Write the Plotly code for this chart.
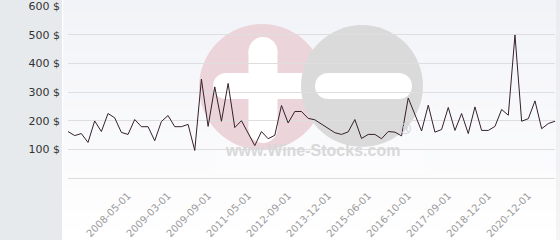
import plotly.graph_objects as go

# ---- data ----
prices = [162, 148, 155, 124, 199, 162, 225, 210, 159, 152,
          204, 179, 179, 130, 197, 218, 179, 179, 187, 96,
          345, 180, 318, 198, 330, 176, 200, 158, 113, 162,
          137, 149, 253, 192, 232, 232, 208, 203, 188, 174,
          158, 152, 161, 204, 138, 152, 152, 137, 162, 160,
          147, 279, 222, 164, 254, 160, 169, 246, 166, 225,
          155, 248, 166, 166, 180, 239, 219, 499, 198, 207,
          269, 172, 190, 198]
point_index = list(range(len(prices)))
tick_positions = [9, 15, 21, 27, 33, 39, 45, 51, 57, 63, 69]
tick_labels = ["2008-05-01", "2009-03-01", "2009-09-01", "2011-05-01",
               "2012-09-01", "2013-12-01", "2015-06-01", "2016-10-01",
               "2017-09-01", "2018-12-01", "2020-12-01"]
y_ticks = [100, 200, 300, 400, 500, 600]
y_labels = [f"{v} $" for v in y_ticks]

# ---- layout geometry (pixels) ----
W, H = 560, 240
L, R, T, B = 68, 5, 5, 62
PW = W - L - R
PH = H - T - B
Y_MAX = 603.5


def px(xp):
    return (xp - L) / PW


def py(yp):
    return (H - B - yp) / PH


shapes = []
# light panel with vertical gradient
top_c = (242, 243, 248)
bot_c = (255, 255, 255)
n = 24
for i in range(n):
    f = i / (n - 1)
    c = tuple(round(top_c[k] + (bot_c[k] - top_c[k]) * f) for k in range(3))
    y0 = i * H / n
    y1 = (i + 1) * H / n + 0.5
    shapes.append(dict(type="rect", xref="paper", yref="paper",
                       x0=px(63), x1=px(W + 2), y0=py(y1), y1=py(y0),
                       fillcolor="rgb(%d,%d,%d)" % c, line_width=0, layer="below"))
# left grey panel
shapes.append(dict(type="rect", xref="paper", yref="paper",
                   x0=px(-2), x1=px(62), y0=py(H + 2), y1=py(-2),
                   fillcolor="#e6eaed", line_width=0, layer="below"))
# white divider
shapes.append(dict(type="rect", xref="paper", yref="paper",
                   x0=px(62), x1=px(63.2), y0=py(H + 2), y1=py(-2),
                   fillcolor="#ffffff", line_width=0, layer="below"))
# right edge shade
shapes.append(dict(type="rect", xref="paper", yref="paper",
                   x0=px(556), x1=px(W + 2), y0=py(H + 2), y1=py(-2),
                   fillcolor="rgba(200,205,210,0.2)", line_width=0, layer="below"))


def circ(cx, cy, r, color):
    return dict(type="circle", xref="paper", yref="paper",
                x0=px(cx - r), x1=px(cx + r), y0=py(cy + r), y1=py(cy - r),
                fillcolor=color, line_width=0, layer="below")


def rect(x0, y0, x1, y1, color):
    return dict(type="rect", xref="paper", yref="paper",
                x0=px(x0), x1=px(x1), y0=py(y1), y1=py(y0),
                fillcolor=color, line_width=0, layer="below")


def hbar(x0, x1, yc, h, color):
    r = h / 2
    return [rect(x0 + r, yc - r, x1 - r, yc + r, color),
            circ(x0 + r, yc, r, color), circ(x1 - r, yc, r, color)]


def vbar(xc, y0, y1, w, color):
    r = w / 2
    return [rect(xc - r, y0 + r, xc + r, y1 - r, color),
            circ(xc, y0 + r, r, color), circ(xc, y1 - r, r, color)]


# watermark logo
pink = "#ebd4da"
grey = "#dadada"
shapes.append(circ(262, 87, 63, pink))
shapes += vbar(263, 37, 143, 29, "#ffffff")
shapes += hbar(213, 320, 86, 26, "#ffffff")
shapes.append(circ(362, 86, 61, grey))
shapes += hbar(315, 412, 86, 26, "#ffffff")
shapes.append(rect(215, 151, 425, 173, "rgba(255,255,255,0.35)"))

annotations = [
    dict(text="www.Wine-Stocks.com", xref="paper", yref="paper",
         x=px(312), y=py(161), showarrow=False,
         font=dict(family="Liberation Sans, Arial", size=16, color="#d8d8d8",
                   weight="bold")),
    dict(text="®", xref="paper", yref="paper",
         x=px(413), y=py(139), showarrow=False,
         font=dict(family="Liberation Sans, Arial", size=15, color="#d3d3d3",
                   weight="bold")),
]

fig = go.Figure()
fig.add_trace(go.Scatter(x=point_index, y=prices, mode="lines",
                         line=dict(color="#35202b", width=1),
                         hoverinfo="skip"))

fig.update_layout(
    width=W, height=H,
    margin=dict(l=L, r=R, t=T, b=B, pad=0, autoexpand=False),
    paper_bgcolor="#ffffff",
    plot_bgcolor="rgba(0,0,0,0)",
    showlegend=False,
    shapes=shapes,
    annotations=annotations,
    font=dict(family="DejaVu Sans"),
    xaxis=dict(range=[0, 73], tickvals=tick_positions, ticktext=tick_labels,
               tickangle=-45, showgrid=False, zeroline=False,
               showline=True, linecolor="#dcdcdc", linewidth=1,
               ticks="", ticklabelstandoff=7, automargin=False,
               tickfont=dict(family="DejaVu Sans", size=10, color="#9a9a9a")),
    yaxis=dict(range=[0, Y_MAX], tickvals=y_ticks, ticktext=y_labels,
               showgrid=True, gridcolor="#dedede", gridwidth=1,
               zeroline=False, showline=False, ticks="",
               ticklabelstandoff=7, automargin=False,
               ticklabeloverflow="allow",
               tickfont=dict(family="DejaVu Sans", size=11, color="#333333")),
)

fig.write_html("out.html")
